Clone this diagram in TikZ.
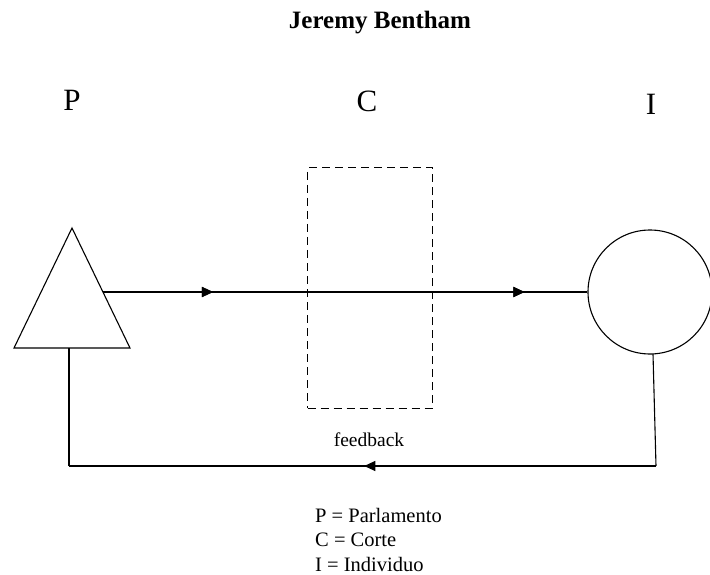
\documentclass[tikz,border=0pt]{standalone}
\usepackage{fontspec}
\setmainfont{Liberation Serif}
\usetikzlibrary{arrows.meta,decorations.markings}
\tikzset{
  ln/.style={line width=1.1pt, black},
  tip/.style={decoration={markings, mark=at position #1 with {\arrow{Triangle[length=11pt,width=10pt]}}}, postaction={decorate}},
  big/.style={font=\fontsize{31}{36}\selectfont, inner sep=0pt},
  leg/.style={font=\fontsize{20.5}{24}\selectfont, anchor=base west, inner sep=0pt}
}
\begin{document}
\begin{tikzpicture}[x=1pt,y=-1pt]
\useasboundingbox (0,0) rectangle (710,575);
% title
\node[font=\fontsize{25}{30}\selectfont\bfseries, inner sep=0pt] (title) at (380,23) {Jeremy Bentham};
% labels
\node[big] (lP) at (72,100) {P};
\node[big] (lC) at (367,101) {C};
\node[big] (lI) at (651,104) {I};
% triangle P
\coordinate (tA) at (72,228);
\coordinate (tL) at (14,348);
\coordinate (tR) at (130,348);
\draw[ln, line join=miter] (tA) -- (tL) -- (tR) -- cycle;
\coordinate (pout) at (103,292);
\coordinate (pbot) at (69,348);
% circle I
\node[ln, draw, circle, minimum size=124pt, inner sep=0pt] (I) at (650,292) {};
% dashed rectangle C
\node[draw, line width=1pt, dash pattern=on 8pt off 5pt, minimum width=125pt, minimum height=240pt, inner sep=0pt] (C) at (370,288) {};
% main line
\draw[ln, tip=0.227, tip=0.870] (pout) -- (I.west);
% feedback loop
\coordinate (fbR) at (656,466);
\coordinate (fbL) at (69,466);
\draw[ln] (653,354) -- (fbR);
\draw[ln, tip=0.497] (fbR) -- (fbL);
\draw[ln] (fbL) -- (pbot);
\node[font=\fontsize{19.5}{24}\selectfont, inner sep=0pt] (fb) at (369,440) {feedback};
% legend
\node[leg] (l1) at (315,522) {P = Parlamento};
\node[leg] (l2) at (315,546.5) {C = Corte};
\node[leg] (l3) at (315,571) {I = Individuo};
\end{tikzpicture}
\end{document}
